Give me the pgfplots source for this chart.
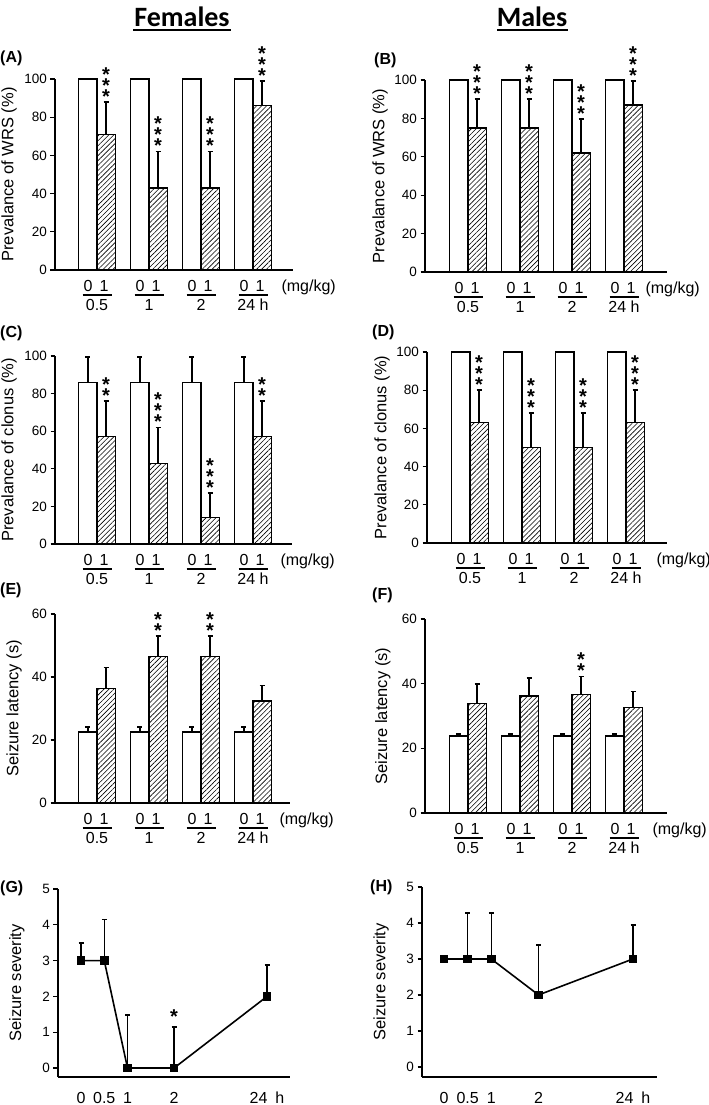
\documentclass[border=0pt]{standalone}
\usepackage{fontspec}
\setmainfont{Liberation Sans}
\newfontfamily\calibri{Carlito}
\usepackage{pgfplots}
\pgfplotsset{compat=1.18}
\usetikzlibrary{patterns.meta}

\newcommand{\fsTick}{\fontsize{13.5}{14}\selectfont}
\newcommand{\fsCat}{\fontsize{16}{18}\selectfont}
\newcommand{\fsLab}{\fontsize{16.5}{18}\selectfont}
\newcommand{\fsStar}{\fontsize{20}{11}\selectfont\bfseries\lineskiplimit=-100pt\relax}
\newcommand{\fsPanel}{\fontsize{16}{18}\selectfont\bfseries}

\pgfplotsset{
  panel/.style={
    scale only axis, clip=false,
    axis x line*=bottom, axis y line*=left,
    axis line style={-, line width=1.6pt},
    every tick/.style={line width=1.2pt, black},
    major tick length=4.5pt, tick align=outside,
    tick label style={font=\fsTick},
    /pgf/number format/assume math mode=true,
    ylabel style={font=\fsLab},
    anchor=south west,
  },
  barpanel/.style={panel, xtick=\empty, ymin=0},
  errstyle/.style={error bars/.cd, y dir=plus, y explicit, error mark=-,
     error bar style={line width=1.4pt, black},
     error mark options={rotate=90, line width=1.8pt, mark size=2.5pt, black}},
  whitebar/.style={ybar, bar width=0.35, bar shift=0pt, draw=black, line width=1.3pt, fill=white, errstyle},
  hatchbar/.style={ybar, bar width=0.35, bar shift=0pt, draw=black, line width=1.3pt,
     pattern={Lines[angle=45,distance=3.5pt,line width=0.6pt]}, errstyle},
}

% stacked significance stars (text), placed above the error bar top
\newcommand{\stars}[3]{\node[font=\fsStar, align=center, anchor=south, inner sep=0pt, yshift=-1.5pt] at (axis cs:#1,#2) {#3};}
\newcommand{\starB}[2]{\stars{#1}{#2}{*\\*}}
\newcommand{\starC}[2]{\stars{#1}{#2}{*\\*\\*}}
\newcommand{\grp}[2]{%
  \node[anchor=base, font=\fsCat, xshift=-9pt, yshift=-21.5pt] at (axis cs:#1,0) {0};
  \node[anchor=base, font=\fsCat, xshift=7pt, yshift=-21.5pt] at (axis cs:#1,0) {1};
  \draw[line width=1.5pt] ([xshift=-14.5pt,yshift=-25pt]axis cs:#1,0) -- ([xshift=14.5pt,yshift=-25pt]axis cs:#1,0);
  \node[anchor=base, font=\fsCat, yshift=-40.5pt] at (axis cs:#1,0) {#2};}
\newcommand{\grps}{\grp{1}{0.5}\grp{2}{1}\grp{3}{2}\grp{4}{24 h}}
\newcommand{\mgkg}[1]{\node[anchor=base west, font=\fsCat, xshift=#1, yshift=-21.5pt] at (axis cs:4,0) {(mg/kg)};}

\begin{document}
\begin{tikzpicture}
\path[use as bounding box] (0pt,0pt) rectangle (709pt,1105pt);

% titles
\node[anchor=base, font=\calibri\bfseries\fontsize{28}{30}\selectfont, inner sep=0pt] at (182pt,1078pt) {Females};
\draw[line width=2pt] (133pt,1074.5pt) -- (231pt,1074.5pt);
\node[anchor=base, font=\calibri\bfseries\fontsize{28}{30}\selectfont, inner sep=0pt] at (532pt,1078pt) {Males};
\draw[line width=2pt] (497pt,1075pt) -- (568pt,1075pt);

% panel letters
\node[anchor=west, font=\fsPanel, inner sep=0pt] at (0pt,1047pt) {(A)};
\node[anchor=west, font=\fsPanel, inner sep=0pt] at (374pt,1045pt) {(B)};
\node[anchor=west, font=\fsPanel, inner sep=0pt] at (0pt,772pt) {(C)};
\node[anchor=west, font=\fsPanel, inner sep=0pt] at (372pt,773pt) {(D)};
\node[anchor=west, font=\fsPanel, inner sep=0pt] at (0pt,515pt) {(E)};
\node[anchor=west, font=\fsPanel, inner sep=0pt] at (372pt,510pt) {(F)};
\node[anchor=west, font=\fsPanel, inner sep=0pt] at (0pt,217pt) {(G)};
\node[anchor=west, font=\fsPanel, inner sep=0pt] at (370pt,218pt) {(H)};

% (A)
\begin{axis}[barpanel, at={(55pt,835pt)}, width=238pt, height=191pt,
  xmin=0.192, xmax=4.769, ymax=100, ytick={0,20,...,100},
  ylabel={Prevalance of WRS (\%)}, ylabel style={at={(axis description cs:-0.193,0.5)}, anchor=center}]
\addplot[whitebar] coordinates {(0.825,100) +- (0,0) (1.825,100) +- (0,0) (2.825,100) +- (0,0) (3.825,100) +- (0,0)};
\addplot[hatchbar] coordinates {(1.175,71) +- (0,17) (2.175,43) +- (0,19) (3.175,43) +- (0,19) (4.175,86) +- (0,13)};
\starC{1.175}{88}\starC{2.175}{62}\starC{3.175}{62}\starC{4.175}{99}
\grps\mgkg{25pt}
\end{axis}

% (B)
\begin{axis}[barpanel, at={(425pt,833pt)}, width=242pt, height=192pt,
  xmin=0.173, xmax=4.827, ymax=100, ytick={0,20,...,100},
  ylabel={Prevalance of WRS (\%)}, ylabel style={at={(axis description cs:-0.186,0.5)}, anchor=center}]
\addplot[whitebar] coordinates {(0.825,100) +- (0,0) (1.825,100) +- (0,0) (2.825,100) +- (0,0) (3.825,100) +- (0,0)};
\addplot[hatchbar] coordinates {(1.175,75) +- (0,15) (2.175,75) +- (0,15) (3.175,62) +- (0,17.5) (4.175,87) +- (0,12.5)};
\starC{1.175}{90}\starC{2.175}{90}\starC{3.175}{79.5}\starC{4.175}{99.5}
\grps\mgkg{18pt}
\end{axis}

% (C)
\begin{axis}[barpanel, at={(55pt,561pt)}, width=237pt, height=188pt,
  xmin=0.192, xmax=4.75, ymax=100, ytick={0,20,...,100},
  ylabel={Prevalance of clonus (\%)}, ylabel style={at={(axis description cs:-0.194,0.5)}, anchor=center}]
\addplot[whitebar] coordinates {(0.825,86) +- (0,13.5) (1.825,86) +- (0,13.5) (2.825,86) +- (0,13.5) (3.825,86) +- (0,13.5)};
\addplot[hatchbar] coordinates {(1.175,57) +- (0,19) (2.175,43) +- (0,19) (3.175,14) +- (0,13) (4.175,57) +- (0,19)};
\starB{1.175}{76}\starC{2.175}{62}\starC{3.175}{27}\starB{4.175}{76}
\grps\mgkg{24pt}
\end{axis}

% (D)
\begin{axis}[barpanel, at={(427pt,562pt)}, width=240pt, height=191pt,
  xmin=0.173, xmax=4.788, ymax=100, ytick={0,20,...,100},
  ylabel={Prevalance of clonus (\%)}, ylabel style={at={(axis description cs:-0.1875,0.5)}, anchor=center}]
\addplot[whitebar] coordinates {(0.825,100) +- (0,0) (1.825,100) +- (0,0) (2.825,100) +- (0,0) (3.825,100) +- (0,0)};
\addplot[hatchbar] coordinates {(1.175,63) +- (0,17) (2.175,50) +- (0,18) (3.175,50) +- (0,18) (4.175,63) +- (0,17)};
\starC{1.175}{80}\starC{2.175}{68}\starC{3.175}{68}\starC{4.175}{80}
\grps\mgkg{27pt}
\end{axis}

% (E)
\begin{axis}[barpanel, at={(55pt,302pt)}, width=235pt, height=189pt,
  xmin=0.192, xmax=4.711, ymax=60, ytick={0,20,40,60},
  ylabel={Seizure latency (s)}, ylabel style={at={(axis description cs:-0.174,0.5)}, anchor=center}]
\addplot[whitebar] coordinates {(0.825,22.5) +- (0,1.6) (1.825,22.5) +- (0,1.6) (2.825,22.5) +- (0,1.6) (3.825,22.5) +- (0,1.6)};
\addplot[hatchbar] coordinates {(1.175,36.4) +- (0,6.6) (2.175,46.5) +- (0,6.5) (3.175,46.5) +- (0,6.5) (4.175,32.4) +- (0,4.9)};
\starB{2.175}{53}\starB{3.175}{53}
\grps\mgkg{23pt}
\end{axis}

% (F)
\begin{axis}[barpanel, at={(425pt,292pt)}, width=242pt, height=194pt,
  xmin=0.173, xmax=4.827, ymax=60, ytick={0,20,40,60},
  ylabel={Seizure latency (s)}, ylabel style={at={(axis description cs:-0.174,0.5)}, anchor=center}]
\addplot[whitebar] coordinates {(0.825,23.8) +- (0,0.6) (1.825,23.8) +- (0,0.6) (2.825,23.8) +- (0,0.6) (3.825,23.8) +- (0,0.6)};
\addplot[hatchbar] coordinates {(1.175,33.9) +- (0,6.0) (2.175,36.2) +- (0,5.5) (3.175,36.7) +- (0,5.5) (4.175,32.6) +- (0,5.0)};
\starB{3.175}{42.2}
\grps\mgkg{25pt}
\end{axis}

% (G)
\begin{axis}[panel, at={(58pt,28pt)}, width=232pt, height=188pt,
  xmin=-0.495, xmax=4.494, ymin=-0.25, ymax=5, ytick={0,1,2,3,4,5},
  xtick={0,0.5,1,2,4}, xticklabels={0,0.5,1,2,24\hspace{8pt}h},
  x tick style={draw=none}, xticklabel style={font=\fsCat, yshift=-7pt},
  ylabel={Seizure severity}, ylabel style={at={(axis description cs:-0.177,0.5)}, anchor=center}]
\addplot[black, line width=1.6pt, mark=square*, mark size=3.5pt, errstyle] coordinates {(0,3) +- (0,0.5) (0.5,3) +- (0,1.15) (1,0) +- (0,1.48) (2,0) +- (0,1.15) (4,2) +- (0,0.87)};
\node[font=\fsStar, anchor=south, inner sep=0pt, yshift=3pt] at (axis cs:2,1.15) {*};
\end{axis}

% (H)
\begin{axis}[panel, at={(422pt,28pt)}, width=235pt, height=190pt,
  xmin=-0.466, xmax=4.508, ymin=-0.28, ymax=5, ytick={0,1,2,3,4,5},
  xtick={0,0.5,1,2,4}, xticklabels={0,0.5,1,2,24\hspace{8pt}h},
  x tick style={draw=none}, xticklabel style={font=\fsCat, yshift=-7pt},
  ylabel={Seizure severity}, ylabel style={at={(axis description cs:-0.174,0.5)}, anchor=center}]
\addplot[black, line width=1.6pt, mark=square*, mark size=3.5pt, errstyle] coordinates {(0,3) +- (0,0) (0.5,3) +- (0,1.28) (1,3) +- (0,1.28) (2,2) +- (0,1.38) (4,3) +- (0,0.95)};
\end{axis}
\end{tikzpicture}
\end{document}
